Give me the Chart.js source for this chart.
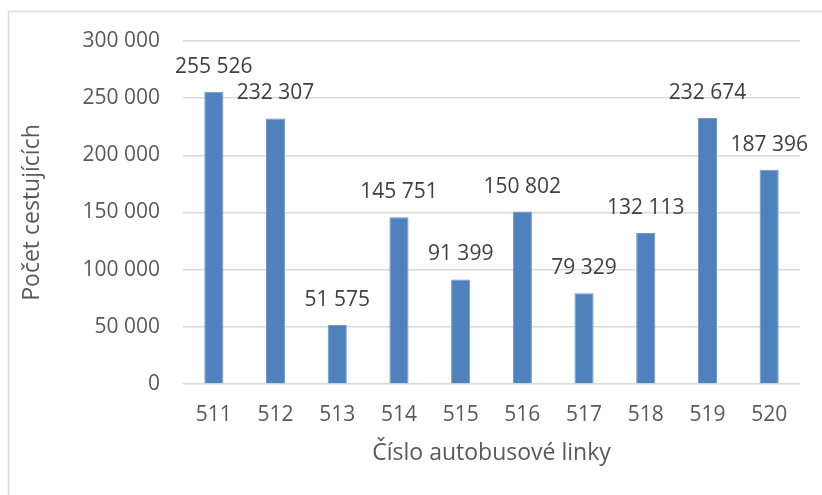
<!DOCTYPE html>
<html lang="cs">
<head>
<meta charset="utf-8">
<script src="https://cdn.jsdelivr.net/npm/chart.js@4.4.1/dist/chart.umd.min.js"></script>
<style>
  html, body { margin: 0; padding: 0; background: #ffffff; }
  #wrap { position: relative; width: 822px; height: 495px; }
</style>
</head>
<body>
<div id="wrap"><canvas id="c" width="822" height="495"></canvas></div>
<script>
// Bus lines and passenger counts
const lines = ['511', '512', '513', '514', '515', '516', '517', '518', '519', '520'];
const passengers = [255526, 232307, 51575, 145751, 91399, 150802, 79329, 132113, 232674, 187396];
const yMin = 0;
const yMax = 300000;
const yStep = 50000;
const xTitle = 'Číslo autobusové linky';
const yTitle = 'Počet cestujících';

const FONT = '"Open Sans", "Liberation Sans", sans-serif';

// Thousands separated by a space, as in Czech notation
function fmt(v) {
  return String(Math.round(v)).replace(/\B(?=(\d{3})+(?!\d))/g, ' ');
}

// Value labels centred above each bar
const valueLabels = {
  id: 'valueLabels',
  afterDatasetsDraw(chart) {
    const ctx = chart.ctx;
    const meta = chart.getDatasetMeta(0);
    const data = chart.data.datasets[0].data;
    ctx.save();
    ctx.font = '21px ' + FONT;
    ctx.fillStyle = '#404040';
    ctx.textAlign = 'center';
    ctx.textBaseline = 'middle';
    meta.data.forEach((bar, i) => {
      ctx.fillText(fmt(data[i]), bar.x, bar.y - 25);
    });
    ctx.restore();
  }
};

// Light frame along the top and left edges
const frame = {
  id: 'frame',
  beforeDraw(chart) {
    const ctx = chart.ctx;
    ctx.save();
    ctx.strokeStyle = '#D9D9D9';
    ctx.lineWidth = 1.5;
    ctx.beginPath();
    ctx.moveTo(8.5, chart.height);
    ctx.lineTo(8.5, 11.5);
    ctx.lineTo(chart.width, 11.5);
    ctx.stroke();
    ctx.restore();
  }
};

new Chart(document.getElementById('c'), {
  type: 'bar',
  data: {
    labels: lines,
    datasets: [{
      data: passengers,
      backgroundColor: '#4F81BD',
      borderColor: '#6B95C8',
      borderWidth: 1,
      barPercentage: 0.31,
      categoryPercentage: 1.0
    }]
  },
  options: {
    responsive: false,
    animation: false,
    devicePixelRatio: 1,
    layout: { padding: { left: 0, top: 41, right: 22, bottom: 0 } },
    plugins: {
      legend: { display: false },
      tooltip: { enabled: false }
    },
    scales: {
      x: {
        grid: { display: false, drawTicks: false },
        border: { display: false },
        ticks: { color: '#595959', font: { family: FONT, size: 21 }, padding: 18, maxRotation: 0 },
        title: {
          display: true, text: xTitle, color: '#595959',
          font: { family: FONT, size: 23 }, padding: { top: 0, bottom: 28 }
        },
        afterFit(scale) { scale.height = 111; }
      },
      y: {
        min: yMin, max: yMax,
        grid: { color: '#D9D9D9', lineWidth: 1.5, drawTicks: false },
        border: { display: false },
        ticks: {
          stepSize: yStep, color: '#595959', padding: 23,
          font: { family: FONT, size: 21 },
          callback: (v) => fmt(v)
        },
        title: {
          display: true, text: yTitle, color: '#595959',
          font: { family: FONT, size: 23 }, padding: { top: 19, bottom: 0 }
        },
        afterFit(scale) { scale.width = 183; }
      }
    }
  },
  plugins: [frame, valueLabels]
});
</script>
</body>
</html>
